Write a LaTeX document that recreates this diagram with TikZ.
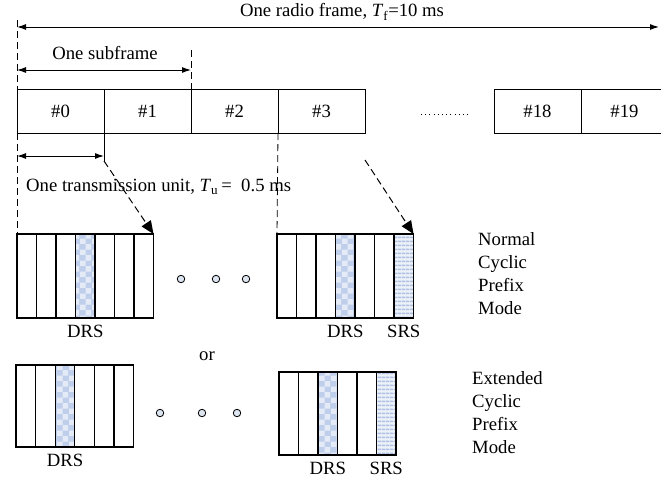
\documentclass[tikz,border=0pt]{standalone}
\usepackage{fontspec}
\setmainfont{Liberation Serif}
\usepackage{tikz}
\usetikzlibrary{positioning, arrows.meta, patterns, patterns.meta}

\definecolor{drsA}{HTML}{BFCFEB}
\definecolor{drsB}{HTML}{E4EBF7}
\definecolor{srsA}{HTML}{EDF1F8}
\definecolor{srsB}{HTML}{AFC1E2}
\definecolor{dotfill}{HTML}{DDE5F0}

\tikzset{
  txt/.style={font=\fontsize{18.7}{23}\selectfont, inner sep=0pt},
  slot/.style={draw, line width=1pt, minimum width=87pt, minimum height=44pt, inner sep=0, outer sep=0, txt},
  sym/.style={draw, line width=1.3pt, minimum width=19.5pt, inner sep=0, outer sep=0},
  plain/.style={},
  drs/.style={preaction={fill=drsA}, pattern=checkerboard, pattern color=drsB},
  srs/.style={preaction={fill=srsA}, pattern={Lines[distance=4pt, line width=1.8pt, angle=0]}, pattern color=srsB},
  dot/.style={circle, draw, line width=0.8pt, fill=dotfill, minimum size=7.5pt, inner sep=0},
  dim/.style={line width=1pt, {Latex[length=9pt,width=6pt]}-{Latex[length=9pt,width=6pt]}},
  guide/.style={line width=0.8pt, dash pattern=on 7pt off 4pt},
  pointer/.style={line width=1pt, dash pattern=on 7pt off 4pt, -{Triangle[length=13pt,width=11pt]}}
}

\begin{document}
\begin{tikzpicture}[x=1pt, y=-1pt]
        \useasboundingbox (0,0) rectangle (661,480);

        % Subframes of the radio frame
        \node [slot] (s0) at (60.5,111) {\#0};
        \node [slot, right=0pt of s0] (s1) {\#1};
        \node [slot, right=0pt of s1] (s2) {\#2};
        \node [slot, right=0pt of s2] (s3) {\#3};
        \node [slot] (s18) at (537.5,111) {\#18};
        \node [slot, right=0pt of s18] (s19) {\#19};
        \draw [line width=0.9pt, dash pattern=on 0.9pt off 3.3pt] (421,114) -- (468,114);

        % Radio frame and subframe lengths
        \coordinate (fL) at (17,27);
        \coordinate (fR) at (659,27);
        \draw [dim] (fL) -- (fR);
        \node [txt] (lfr) at (342,12) {One radio frame, \textit{T}\textsubscript{f}=10 ms};
        \draw [guide] ([yshift=7pt]fL) -- (s0.north west);
        \draw [guide] ([yshift=39pt]s2.north west) -- (s2.north west);
        \draw [dim] ([yshift=19pt]s0.north west) -- ([yshift=19pt]s2.north west);
        \node [txt] (lsf) at (105,53) {One subframe};

        % Normal cyclic prefix: two groups of 7 symbols
        \foreach \i/\s in {0/plain,1/plain,2/plain,3/drs,4/plain,5/plain,6/plain}
        {
        \node [sym, \s, minimum height=84pt] (na\i) at ({17+19.5*(\i+0.5)},276) {};
        }
        \foreach \i/\s in {0/plain,1/plain,2/plain,3/drs,4/plain,5/plain,6/srs}
        {
        \node [sym, \s, minimum height=84pt] (nb\i) at ({277+19.5*(\i+0.5)},276) {};
        }
        \node [txt, below=7pt of na3] (lna) {DRS};
        \node [txt, below=7pt of nb3] (lnb) {DRS};
        \node [txt, below=7pt of nb6] (lnc) {SRS};
        \node [dot] (ca1) at (181,279) {};
        \node [dot] (ca2) at (216,279) {};
        \node [dot] (ca3) at (246,279) {};
        \node [txt, align=left, anchor=west] (lnorm) at (478,274) {Normal\\Cyclic\\Prefix\\Mode};

        % Transmission unit and pointers to the symbols
        \draw [dim] ([yshift=-23pt]s0.south west) -- ([yshift=-23pt]s1.south west);
        \draw [line width=0.8pt] (s1.south west) -- ([yshift=-28pt]s1.south west);
        \draw [guide] (s0.south west) -- (na0.north west);
        \draw [guide] (s3.south west) -- (nb0.north west);
        \draw [pointer] ([yshift=-28pt]s1.south west) -- (na6.north east);
        \draw [pointer] ([yshift=-27pt]s3.south east) -- (nb6.north east);
        \node [txt, anchor=west] (ltu) at (26,187) {One transmission unit, \textit{T}\textsubscript{u}\,=\ \ 0.5 ms};

        \node [txt] (lor) at (207,356) {or};

        % Extended cyclic prefix: two groups of 6 symbols
        \foreach \i/\s in {0/plain,1/plain,2/drs,3/plain,4/plain,5/plain}
        {
        \node [sym, \s, minimum width=19.6pt, minimum height=82pt] (ea\i) at ({16+19.6*(\i+0.5)},406) {};
        }
        \foreach \i/\s in {0/plain,1/plain,2/drs,3/plain,4/plain,5/srs}
        {
        \node [sym, \s, minimum height=83pt] (eb\i) at ({279+19.5*(\i+0.5)},413.5) {};
        }
        \node [txt, below=7pt of ea2] (lea) {DRS};
        \node [txt, below=7pt of eb2] (leb) {DRS};
        \node [txt, below=7pt of eb5] (lec) {SRS};
        \node [dot] (cb1) at (160,413) {};
        \node [dot] (cb2) at (202,413) {};
        \node [dot] (cb3) at (237,413) {};
        \node [txt, align=left, anchor=west] (lext) at (472,413) {Extended\\Cyclic\\Prefix\\Mode};
    \end{tikzpicture}
\end{document}
